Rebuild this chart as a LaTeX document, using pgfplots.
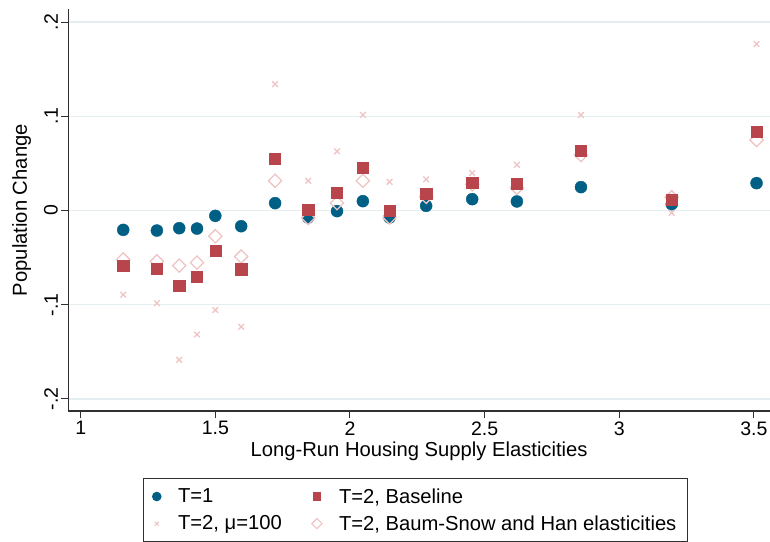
\documentclass[border=0pt]{standalone}
\usepackage{fontspec}
\setmainfont{Liberation Sans}
\usepackage{pgfplots}
\pgfplotsset{compat=1.18}

\definecolor{tone}{HTML}{005F85}
\definecolor{tbase}{HTML}{B8454C}
\definecolor{tpink}{HTML}{EEC4C4}
\definecolor{gridc}{HTML}{E4EEF0}
\definecolor{axc}{HTML}{303030}

% x: long-run housing supply elasticity
% y columns: T=1, T=2 baseline, T=2 mu=100, T=2 Baum-Snow & Han
\pgfplotstableread{
x      one      base     mu       bsh
1.158  -0.0206  -0.0585  -0.0894  -0.0520
1.283  -0.0213  -0.0614  -0.0983  -0.0540
1.366  -0.0188  -0.0798  -0.1585  -0.0585
1.432  -0.0192  -0.0702  -0.1316  -0.0553
1.500  -0.0057  -0.0426  -0.1057  -0.0273
1.596  -0.0167  -0.0624  -0.1234  -0.0489
1.722   0.0078   0.0549   0.1340   0.0315
1.845  -0.0075   0.0010   0.0315  -0.0080
1.952  -0.0007   0.0191   0.0628   0.0078
2.048   0.0099   0.0457   0.1014   0.0315
2.147  -0.0075   0.0000   0.0304  -0.0075
2.283   0.0049   0.0177   0.0330   0.0145
2.454   0.0120   0.0298   0.0397   0.0277
2.620   0.0096   0.0287   0.0485   0.0240
2.858   0.0248   0.0638   0.1014   0.0588
3.195   0.0067   0.0117  -0.0025   0.0140
3.510   0.0290   0.0840   0.1766   0.0748
}\popdata

\begin{document}
\begin{tikzpicture}
\begin{axis}[
  scale only axis,
  width=701.7pt, height=401.7pt,
  xmin=0.954, xmax=3.56,
  ymin=-0.2128, ymax=0.2135,
  axis x line*=bottom, axis y line*=left,
  axis line style={axc, line width=1.1pt},
  tick align=outside,
  major tick length=7pt,
  tick style={axc, line width=1pt},
  xtick={1,1.5,2,2.5,3,3.5},
  xticklabels={1,1.5,2,2.5,3,3.5},
  ytick={-0.2,-0.1,0,0.1,0.2},
  yticklabels={-.2,-.1,0,.1,.2},
  ymajorgrids,
  major grid style={gridc, line width=1.4pt},
  tick label style={font=\fontsize{19.5}{22}\selectfont},
  yticklabel style={rotate=90, anchor=south},
  label style={font=\fontsize{20.2}{23}\selectfont},
  xlabel={Long-Run Housing Supply Elasticities},
  ylabel={Population Change},
  ylabel style={yshift=6pt},
  legend columns=2,
  legend cell align=left,
  legend style={
    at={(0.1065,-0.1668)}, anchor=north west,
    draw=axc, line width=0.9pt,
    font=\fontsize{20.2}{23}\selectfont,
    inner xsep=9pt, inner ysep=8pt,
    row sep=7pt,
    /tikz/every odd column/.append style={column sep=15pt},
    /tikz/every even column/.append style={column sep=28pt},
  },
]
\addplot[only marks, mark=*, mark size=6pt, color=tone, forget plot]
  table[x=x, y=one] {\popdata};
\addplot[only marks, mark=square, mark size=4.7pt, mark options={rotate=45}, color=tpink, line width=1.3pt, forget plot]
  table[x=x, y=bsh] {\popdata};
\addplot[only marks, mark=x, mark size=4pt, color=tpink, line width=1.3pt, forget plot]
  table[x=x, y=mu] {\popdata};
\addplot[only marks, mark=square*, mark size=5.6pt, color=tbase, forget plot]
  table[x=x, y=base] {\popdata};

\addlegendimage{only marks, mark=*, mark size=4.3pt, color=tone}
\addlegendentry{T=1}
\addlegendimage{only marks, mark=square*, mark size=3.9pt, color=tbase}
\addlegendentry{T=2, Baseline}
\addlegendimage{only marks, mark=x, mark size=2.8pt, color=tpink, line width=1pt}
\addlegendentry{T=2, μ=100}
\addlegendimage{only marks, mark=square, mark size=3.6pt, mark options={rotate=45}, color=tpink, line width=1.1pt}
\addlegendentry{T=2, Baum-Snow and Han elasticities}
\end{axis}
\pgfresetboundingbox
\path[use as bounding box] (-68.3pt,-130pt) rectangle (701.7pt,411pt);
\end{tikzpicture}
\end{document}
